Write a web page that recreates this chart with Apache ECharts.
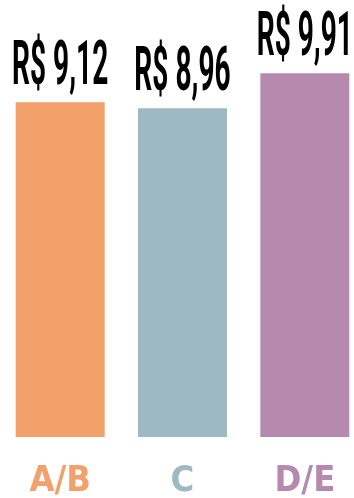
<!DOCTYPE html>
<html>
<head>
<meta charset="utf-8">
<script src="https://cdn.jsdelivr.net/npm/echarts@6/dist/echarts.min.js"></script>
<style>
  html, body { margin: 0; padding: 0; background: #fff; }
  #chart { width: 354px; height: 498px; }
</style>
</head>
<body>
<div id="chart"></div>
<script>
// dados
var categorias = ['A/B', 'C', 'D/E'];
var valores = [9.12, 8.96, 9.91];
var cores = ['#F2A16B', '#9FB9C3', '#B58AAE'];

var chart = echarts.init(document.getElementById('chart'));

function formatReal(v) {
    return 'R$ ' + v.toFixed(2).replace('.', ',');
}

var option = {
    animation: false,
    grid: {
        left: -1,
        width: 367,
        top: 70,
        bottom: 61,
        outerBoundsMode: 'none'
    },
    xAxis: {
        type: 'category',
        data: categorias,
        axisLine: { show: false },
        axisTick: { show: false },
        axisLabel: {
            margin: 27,
            fontFamily: 'DejaVu Sans Condensed',
            fontWeight: 'bold',
            fontSize: 36,
            color: function (value, index) {
                return cores[index];
            }
        }
    },
    yAxis: {
        type: 'value',
        min: 0,
        max: 10,
        show: false
    },
    series: [{
        type: 'bar',
        barWidth: 89,
        data: valores.map(function (v, i) {
            return { value: v, itemStyle: { color: cores[i] } };
        })
    }, {
        // rótulos altos e estreitos
        type: 'custom',
        data: valores.map(function (v, i) { return [i, v]; }),
        renderItem: function (params, api) {
            var p = api.coord([api.value(0), api.value(1)]);
            return {
                type: 'text',
                x: p[0],
                y: p[1] - 3,
                scaleX: 0.46,
                style: {
                    text: formatReal(api.value(1)),
                    fontFamily: 'Roboto',
                    fontWeight: 'bold',
                    fontSize: 61,
                    fill: '#000',
                    align: 'center',
                    verticalAlign: 'bottom'
                }
            };
        }
    }]
};

chart.setOption(option);
</script>
</body>
</html>
